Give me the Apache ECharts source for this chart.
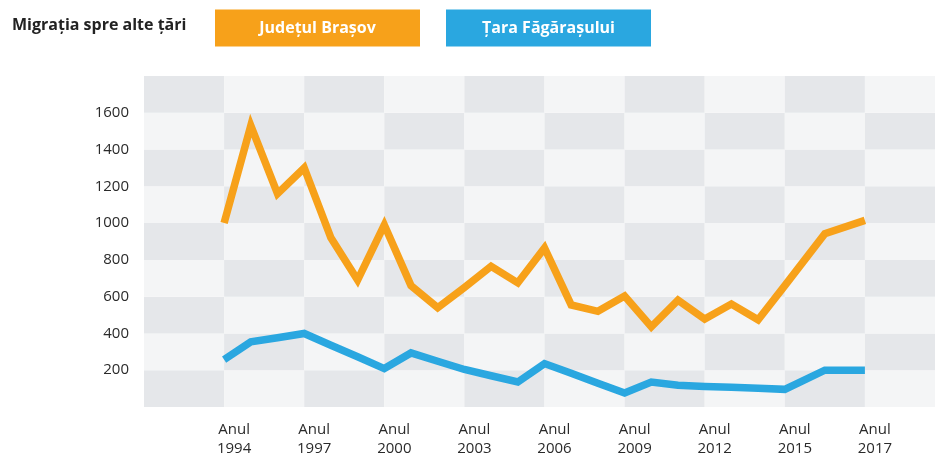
<!DOCTYPE html>
<html>
<head>
<meta charset="utf-8">
<script src="https://cdn.jsdelivr.net/npm/echarts@6/dist/echarts.min.js"></script>
<style>
html,body{margin:0;padding:0;background:#fff;}
#c{width:935px;height:455px;}
</style>
</head>
<body>
<div id="c"></div>
<script>
// ---- data ----
const chartTitle = 'Migrația spre alte țări';
const seriesNames = ['Județul Brașov', 'Țara Făgărașului'];
const tickYears = [1994, 1997, 2000, 2003, 2006, 2009, 2012, 2015, 2017];
const years = [1994, 1995, 1996, 1997, 1998, 1999, 2000, 2001, 2002, 2003, 2004, 2005,
               2006, 2007, 2008, 2009, 2010, 2011, 2012, 2013, 2014, 2015, 2016, 2017];
const brasov = [1000, 1530, 1160, 1300, 920, 690, 990, 660, 540, 650, 765, 675,
                865, 555, 520, 603, 436, 581, 478, 560, 474, 660, 942, 1015];
const fagaras = [258, 354, 377, 400, 336, 273, 209, 294, 249, 204, 170, 136,
                 236, 183, 129, 76, 136, 118, 112, 107, 102, 96, 200, 200];
const yTicks = [200, 400, 600, 800, 1000, 1200, 1400, 1600];

// ---- styling ----
const ORANGE = '#F7A11A';
const BLUE = '#2AA7E0';
const DARK = '#E5E7EA';
const LIGHT = '#F4F5F6';
const FONT = '"Open Sans", "Noto Sans", sans-serif';

// the x axis is laid out in label slots (one checkerboard column per label)
function slotPos(y) {
  for (let i = 0; i < tickYears.length - 1; i++) {
    if (y <= tickYears[i + 1]) {
      return i + 1 + (y - tickYears[i]) / (tickYears[i + 1] - tickYears[i]);
    }
  }
  return tickYears.length;
}

const cells = [];
for (let c = 0; c < 10; c++) for (let r = 0; r < 9; r++) cells.push([c, r]);

const chart = echarts.init(document.getElementById('c'), null, {renderer: 'canvas'});
chart.setOption({
  animation: false,
  backgroundColor: '#fff',
  grid: {left: 144, top: 76, width: 801, height: 331, containLabel: false, outerBoundsMode: 'none'},
  xAxis: {
    type: 'value', min: 0, max: 10, interval: 1,
    axisLine: {show: false}, axisTick: {show: false}, splitLine: {show: false},
    axisLabel: {
      margin: 13,
      color: '#2a2a2a',
      fontFamily: FONT,
      fontSize: 15,
      lineHeight: 19,
      padding: [0, 0, 0, 20],
      formatter: v => (v >= 1 && v <= tickYears.length) ? 'Anul\n' + tickYears[v - 1] : ''
    }
  },
  yAxis: {
    type: 'value', min: 0, max: 1800, interval: 200,
    axisLine: {show: false}, axisTick: {show: false}, splitLine: {show: false},
    axisLabel: {
      margin: 15,
      color: '#2a2a2a',
      fontFamily: FONT,
      fontSize: 15,
      padding: [4, 0, 0, 0],
      formatter: v => yTicks.indexOf(v) >= 0 ? String(v) : ''
    }
  },
  graphic: [
    {type: 'text', left: 12, top: 17, style: {text: chartTitle, font: 'bold 16px ' + FONT, fill: '#222'}},
    {type: 'rect', shape: {x: 215, y: 9.5, width: 205, height: 37}, style: {fill: ORANGE}},
    {type: 'text', x: 317.5, y: 28, style: {text: seriesNames[0], font: 'bold 16px ' + FONT, fill: '#fff', align: 'center', verticalAlign: 'middle'}},
    {type: 'rect', shape: {x: 446, y: 9.5, width: 205, height: 37}, style: {fill: BLUE}},
    {type: 'text', x: 548.5, y: 28, style: {text: seriesNames[1], font: 'bold 16px ' + FONT, fill: '#fff', align: 'center', verticalAlign: 'middle'}}
  ],
  series: [
    {
      type: 'custom',
      silent: true,
      z: 1,
      data: cells,
      encode: {x: 0, y: 1},
      renderItem: function (params, api) {
        const c = api.value(0), r = api.value(1);
        const p0 = api.coord([c, (r + 1) * 200]);
        const p1 = api.coord([c + 1, r * 200]);
        return {
          type: 'rect',
          shape: {x: p0[0], y: p0[1], width: p1[0] - p0[0], height: p1[1] - p0[1]},
          style: {fill: (c + r) % 2 === 0 ? DARK : LIGHT}
        };
      }
    },
    {
      name: seriesNames[0], type: 'line', z: 3,
      showSymbol: false, symbol: 'none',
      data: years.map((y, i) => [slotPos(y), brasov[i]]),
      lineStyle: {color: ORANGE, width: 7.5, join: 'miter', cap: 'butt'}
    },
    {
      name: seriesNames[1], type: 'line', z: 3,
      showSymbol: false, symbol: 'none',
      data: years.map((y, i) => [slotPos(y), fagaras[i]]),
      lineStyle: {color: BLUE, width: 7.5, join: 'miter', cap: 'butt'}
    }
  ]
});
</script>
</body>
</html>
